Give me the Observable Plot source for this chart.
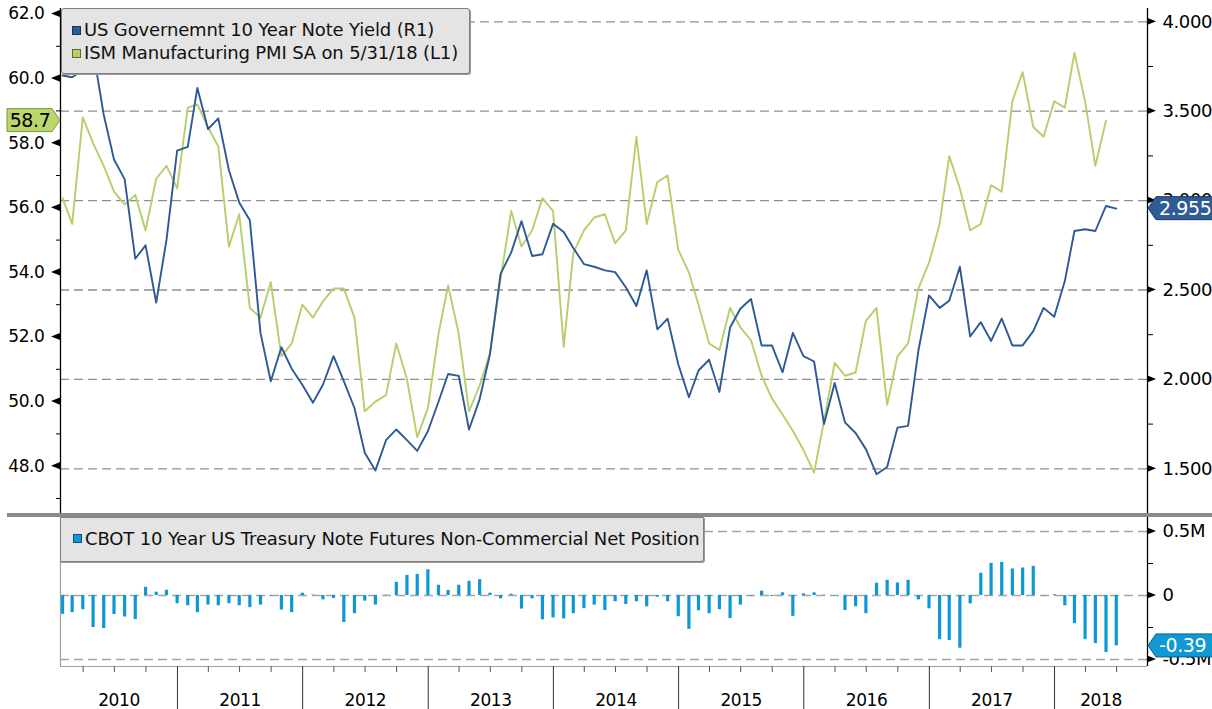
<!DOCTYPE html>
<html><head><meta charset="utf-8">
<script src="https://cdn.jsdelivr.net/npm/d3@7"></script>
<script src="https://cdn.jsdelivr.net/npm/@observablehq/plot@0.6"></script>
<style>
body{margin:0;background:#fff;font-family:"DejaVu Sans",sans-serif;}
#wrap{position:relative;width:1212px;height:709px;overflow:hidden;background:#fff;}
#topc,#botc{position:absolute;left:0;}
#topc{top:0}#botc{top:517px}
#sep{position:absolute;left:7px;top:513px;width:1205px;height:4px;background:#8a8a8a;}
.legend{position:absolute;background:#e4e4e4;border:1px solid #808080;border-radius:3px;box-shadow:1px 1px 0 #9a9a9a;font-size:18px;letter-spacing:-0.15px;color:#111;}
.item{position:absolute;white-space:nowrap;line-height:20px;}
.sw{position:absolute;width:7px;height:7px;border:1px solid #333;}
#over{position:absolute;left:0;top:0;pointer-events:none;}
</style></head>
<body><div id="wrap">
<div id="topc"></div><div id="sep"></div><div id="botc"></div>
<div class="legend" style="left:61px;top:8px;width:407px;height:64px;">
  <div class="sw" style="left:10px;top:17px;background:#2d5a94;border-color:#1b3357"></div>
  <div class="item" id="lg1" style="left:22px;top:11px;"></div>
  <div class="sw" style="left:10px;top:40px;background:#b7cf6a;border-color:#5d6b30"></div>
  <div class="item" id="lg2" style="left:22px;top:34px;"></div>
</div>
<div class="legend" style="left:60px;top:517px;width:642px;height:43px;border-radius:0 0 3px 0;">
  <div class="sw" style="left:12px;top:16px;background:#0d98d5;border-color:#0b4d6d"></div>
  <div class="item" id="lg3" style="left:24px;top:11px;"></div>
</div>
<svg id="over" width="1212" height="709"></svg>
</div>
<script>
// ---------------- data ----------------
const SERIES_NAMES = [
  "US Governemnt 10 Year Note Yield (R1)",
  "ISM Manufacturing PMI SA on 5/31/18 (L1)",
  "CBOT 10 Year US Treasury Note Futures Non-Commercial Net Position"
];
// monthly, Jan 2010 .. May 2018
const ISM = [56.3,55.5,58.8,58.0,57.3,56.5,56.1,56.4,55.3,56.9,57.3,56.6,59.1,59.2,58.5,57.9,54.8,55.8,52.9,52.6,53.7,51.4,
  51.8,53.0,52.6,53.1,53.5,53.5,52.6,49.7,50.0,50.2,51.8,50.7,48.9,49.8,52.1,53.6,52.1,49.7,50.5,51.5,53.8,
  55.9,54.8,55.3,56.3,55.9,51.7,54.6,55.3,55.7,55.8,54.9,55.3,58.2,55.5,56.8,57.0,54.7,54.0,53.0,51.8,51.6,
  52.9,52.3,51.9,50.8,50.1,49.6,49.1,48.5,47.8,49.4,51.2,50.8,50.9,52.5,52.9,49.9,51.4,51.8,53.5,54.3,55.5,
  57.6,56.6,55.3,55.5,56.7,56.5,59.3,60.2,58.5,58.2,59.3,59.1,60.8,59.3,57.3,58.7];
// monthly, Jan 2010 .. Jun 2018
const YIELD = [3.70,3.69,3.73,3.84,3.48,3.23,3.12,2.675,2.75,2.43,2.78,3.28,3.30,3.63,3.40,3.46,3.17,2.99,2.89,2.26,1.99,2.18,
  2.06,1.97,1.87,1.97,2.13,1.99,1.84,1.59,1.49,1.66,1.72,1.66,1.60,1.71,1.875,2.03,2.02,1.72,1.89,2.14,2.59,
  2.71,2.885,2.69,2.70,2.87,2.825,2.735,2.645,2.63,2.61,2.60,2.515,2.41,2.61,2.28,2.34,2.085,1.90,2.05,2.11,1.93,
  2.29,2.395,2.45,2.19,2.19,2.04,2.26,2.13,2.10,1.75,1.98,1.76,1.70,1.61,1.47,1.51,1.73,1.74,2.16,2.47,2.40,
  2.44,2.63,2.24,2.32,2.215,2.34,2.19,2.19,2.27,2.40,2.35,2.55,2.83,2.84,2.83,2.97,2.955];
// millions of contracts, Jan 2010 .. Jun 2018
const CBOT = [-0.147,-0.134,-0.111,-0.25,-0.258,-0.149,-0.168,-0.188,0.064,0.026,
  0.041,-0.064,-0.08,-0.134,-0.075,-0.08,-0.064,-0.08,-0.095,-0.075,
  -0.005,-0.113,-0.134,0.018,0.003,-0.034,-0.023,-0.211,-0.142,-0.044,
  -0.075,0.003,0.103,0.157,0.165,0.201,0.08,0.039,0.08,0.111,
  0.124,0.018,-0.026,0.01,-0.106,-0.026,-0.19,-0.175,-0.183,-0.142,
  -0.103,-0.075,
  -0.117,-0.049,-0.07,-0.049,-0.088,-0.013,-0.049,-0.166,-0.264,-0.119,
  -0.142,-0.111,-0.181,-0.075,-0.005,0.034,-0.008,0.021,-0.163,0.013,
  0.021,0.003,-0.003,-0.117,-0.088,-0.142,0.096,0.119,0.098,0.119,
  -0.034,-0.104,-0.345,-0.352,-0.412,-0.065,0.174,0.251,0.259,0.207,
  0.215,0.228,-0.003,0.005,-0.08,-0.22,-0.345,-0.376,-0.446,-0.394];
const LEFT_TICKS = [48,50,52,54,56,58,60,62];
const LEFT_MINOR = [47,49,51,53,55,57,59,61];
const RIGHT_TICKS = [1.5,2.0,2.5,3.0,3.5,4.0];
const RIGHT_MINOR = [1.25,1.75,2.25,2.75,3.25,3.75];
const BAR_TICKS = [-0.5,0,0.5];
const BAR_TICK_LABELS = ["-0.5M","0","0.5M"];
const BAR_MINOR = [-0.25,0.25];
const YEARS = [2010,2011,2012,2013,2014,2015,2016,2017,2018];

// ---------------- setup ----------------
const BLUE = "#2d5a94", GREEN = "#b7cf6a", CYAN = "#0d98d5";
document.getElementById("lg1").textContent = SERIES_NAMES[0];
document.getElementById("lg2").textContent = SERIES_NAMES[1];
document.getElementById("lg3").textContent = SERIES_NAMES[2];

const start = new Date(Date.UTC(2010,0,1));
const monthEnd = i => d3.utcDay.offset(d3.utcMonth.offset(start, i + 1), -1);
const X0 = new Date(Date.UTC(2010,0,25)), X1 = new Date(Date.UTC(2018,8,29));
const L0 = 46.5356, L1 = 62.1703, R0 = 1.25, R1 = 4.0744;
const k = (L1 - L0) / (R1 - R0);
const toL = v => L0 + (v - R0) * k;
const fromL = v => R0 + (v - L0) / k;
const B0 = -0.5547, B1 = 0.6094;

const ismData = ISM.map((v,i) => ({date: monthEnd(i), v}));
const yldData = YIELD.map((v,i) => ({date: monthEnd(i), v}));
const barData = CBOT.map((v,i) => ({date: monthEnd(i), v}));

const style = {fontFamily: "DejaVu Sans", fontSize: "17px", color: "#000", background: "transparent", overflow: "visible", letterSpacing: "-0.4px"};
const grid = {stroke: "#8f8f8f", strokeDasharray: "9,5", strokeWidth: 1.3};

// small black triangle markers at the major ticks, placed through the plot's y scale
const tickMarkers = (ticks, side) => (index, scales, values, dims) => {
  const g = d3.create("svg:g").attr("fill", "#000");
  const x = side === "left" ? dims.marginLeft : dims.width - dims.marginRight;
  const s = side === "left" ? -1 : 1;
  for (const t of ticks) {
    const y = scales.y(t);
    g.append("path").attr("d", `M${x},${y - 3.6}L${x + s * 9},${y}L${x},${y + 3.6}Z`);
  }
  return g.node();
};

const topPlot = Plot.plot({
  width: 1212, height: 515, marginLeft: 60, marginRight: 65, marginTop: 8, marginBottom: 2,
  style,
  x: {type: "utc", domain: [X0, X1], axis: null, label: null},
  y: {domain: [L0, L1], axis: null, label: null},
  marks: [
    Plot.ruleY(RIGHT_TICKS.map(toL), grid),
    Plot.line(ismData, {x: "date", y: "v", stroke: GREEN, strokeWidth: 1.9}),
    Plot.line(yldData, {x: "date", y: d => toL(d.v), stroke: BLUE, strokeWidth: 1.9}),
    Plot.ruleX([X0], {stroke: "#000", strokeWidth: 1.3}),
    Plot.ruleX([X1], {stroke: "#000", strokeWidth: 1.3}),
    Plot.axisY(LEFT_TICKS, {anchor: "left", tickSize: 0, tickPadding: 16, tickFormat: d => d.toFixed(1), label: null}),
    Plot.axisY(LEFT_MINOR, {anchor: "left", tickSize: 4, tickFormat: () => "", label: null}),
    tickMarkers(LEFT_TICKS, "left"),
    Plot.axisY(RIGHT_TICKS.map(toL), {anchor: "right", tickSize: 0, tickPadding: 15, fontSize: 18, tickFormat: v => fromL(v).toFixed(3), label: null}),
    Plot.axisY(RIGHT_MINOR.map(toL), {anchor: "right", tickSize: 5, tickFormat: () => "", label: null}),
    tickMarkers(RIGHT_TICKS.map(toL), "right")
  ]
});
document.getElementById("topc").append(topPlot);

const yearStarts = YEARS.slice(1).map(y => new Date(Date.UTC(y,0,1)));
const quarters = d3.utcMonth.range(X0, X1, 1).filter(d => d.getUTCMonth() % 3 === 0 && d.getUTCMonth() !== 0);
const yearMids = YEARS.map(y => {
  const a = Math.max(+new Date(Date.UTC(y,0,1)), +X0), b = Math.min(+new Date(Date.UTC(y+1,0,1)), +X1);
  return new Date((a + b) / 2);
});
const barLabel = new Map(BAR_TICKS.map((t,i) => [t, BAR_TICK_LABELS[i]]));

const botPlot = Plot.plot({
  width: 1212, height: 192, marginLeft: 60, marginRight: 65, marginTop: 0, marginBottom: 43,
  style,
  x: {type: "utc", domain: [X0, X1], axis: null, label: null},
  y: {domain: [B0, B1], axis: null, label: null},
  marks: [
    Plot.ruleY(BAR_TICKS, {...grid, stroke: "#a5a5a5"}),
    Plot.ruleX(barData, {x: "date", y1: 0, y2: "v", stroke: CYAN, strokeWidth: 3.2}),
    Plot.ruleX([X0], {stroke: "#a0a0a0", strokeWidth: 1.2}),
    Plot.ruleY([B0], {stroke: "#a0a0a0", strokeWidth: 1.2}),
    Plot.ruleX([X1], {stroke: "#000", strokeWidth: 1.3}),
    Plot.axisX(yearStarts, {anchor: "bottom", tickSize: 43, tickFormat: () => "", stroke: "#333", label: null}),
    Plot.axisX(quarters, {anchor: "bottom", tickSize: 6, tickFormat: () => "", stroke: "#555", label: null}),
    Plot.axisX(yearMids, {anchor: "bottom", tickSize: 0, tickPadding: 27, tickFormat: d3.utcFormat("%Y"), label: null}),
    Plot.axisY(BAR_TICKS, {anchor: "right", tickSize: 0, tickPadding: 15, fontSize: 18, tickFormat: d => barLabel.get(d), label: null}),
    Plot.axisY(BAR_MINOR, {anchor: "right", tickSize: 5, tickFormat: () => "", label: null}),
    tickMarkers(BAR_TICKS, "right")
  ]
});
document.getElementById("botc").append(botPlot);

// ---------------- value callouts ----------------
const over = d3.select("#over");
function callout(cy, side, fill, edge, txt, color) {
  const h = 23, y0 = cy - h/2;
  let pts;
  if (side === "left") pts = [[7,y0],[52,y0],[60,cy],[52,y0+h],[7,y0+h]];
  else pts = [[1148,cy],[1156,y0],[1214,y0],[1214,y0+h],[1156,y0+h]];
  over.append("polygon").attr("points", pts.map(p => p.join(",")).join(" "))
    .attr("fill", fill).attr("stroke", edge).attr("stroke-width", 1);
  over.append("text").attr("x", side === "left" ? 30 : 1159).attr("y", cy + 7)
    .attr("text-anchor", side === "left" ? "middle" : "start")
    .attr("font-family", "DejaVu Sans").attr("font-size", 19).attr("letter-spacing", "-0.4px")
    .attr("fill", color).text(txt);
}
const yTop = topPlot.scale("y"), yBot = botPlot.scale("y");
callout(yTop.apply(ISM[ISM.length-1]), "left", "#bcd66e", "#7d963a", ISM[ISM.length-1].toFixed(1), "#000");
callout(yTop.apply(toL(YIELD[YIELD.length-1])), "right", "#2f5c94", "#1c3760", YIELD[YIELD.length-1].toFixed(3), "#fff");
callout(517 + yBot.apply(CBOT[CBOT.length-1]), "right", "#1199d6", "#0b5e86", CBOT[CBOT.length-1].toFixed(2), "#fff");
</script>
</body></html>
